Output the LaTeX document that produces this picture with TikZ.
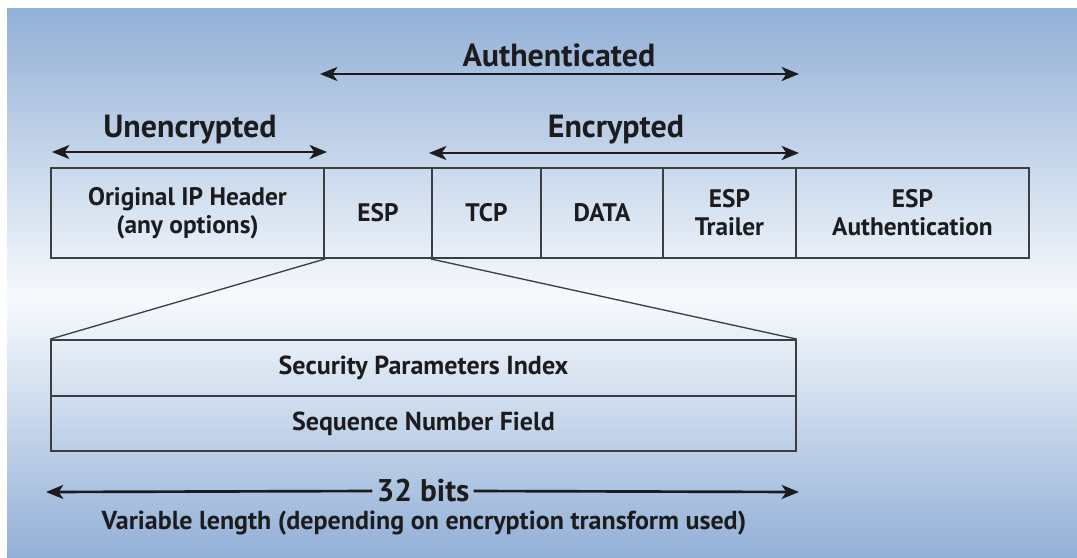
\documentclass[tikz,border=0pt]{standalone}
\usepackage{fontspec}
\setmainfont{PT Sans}
\usetikzlibrary{arrows.meta}
\definecolor{bgblue}{RGB}{146,176,215}
\definecolor{bgwhite}{RGB}{247,250,253}
\definecolor{ink}{RGB}{28,28,30}
\definecolor{rule}{RGB}{60,62,66}
\tikzset{
  headtip/.tip={Stealth[length=13pt,width=10.5pt,inset=3.5pt]},
  field/.style={draw=rule, line width=1.5pt, rectangle, inner sep=0pt, align=center,
    font=\fontsize{19}{21}\selectfont\bfseries, text=ink, minimum height=90*0.75pt},
  row/.style={draw=rule, line width=1.3pt, rectangle, inner sep=0pt,
    font=\fontsize{19.5}{21}\selectfont\bfseries, text=ink, minimum width=745*0.75pt},
  span/.style={draw=ink, line width=2pt, headtip-headtip},
  half/.style={draw=ink, line width=2pt, -headtip},
  caption/.style={font=\fontsize{24}{26}\selectfont\bfseries, text=ink, inner sep=1pt},
  note/.style={font=\fontsize{19.5}{21}\selectfont\bfseries, text=ink, inner sep=2pt},
  zoomline/.style={draw=rule, line width=1pt}
}
\begin{document}
\begin{tikzpicture}[x=0.75pt,y=-0.75pt]
\useasboundingbox (0,0) rectangle (1077,557);
\fill[white] (0,0) rectangle (1077,557);
% backdrop: blue fading to white and back to blue
\shade[top color=bgblue, bottom color=bgwhite] (7,8) rectangle (1077,300);
\shade[top color=bgwhite, bottom color=bgblue] (7,299.5) rectangle (1077,557);

% ESP packet fields
\node[field, minimum width=273*0.75pt] (ip)   at (187.5,213) {Original IP Header\\(any options)};
\node[field, minimum width=108*0.75pt] (esp)  at (378,213)   {ESP};
\node[field, minimum width=109*0.75pt] (tcp)  at (486.5,213) {TCP};
\node[field, minimum width=122*0.75pt] (data) at (602,213)   {DATA};
\node[field, minimum width=133*0.75pt] (trl)  at (729.5,213) {ESP\\Trailer};
\node[field, minimum width=233*0.75pt] (auth) at (912.5,213) {ESP\\Authentication};

% ESP header detail
\node[row, minimum height=56*0.75pt] (spi) at (423.5,368) {Security Parameters Index};
\node[row, minimum height=55*0.75pt] (snf) at (423.5,423.5) {Sequence Number Field};

\draw[zoomline] (ip.south east) -- (spi.north west);
\draw[zoomline] (tcp.south west) -- (spi.north east);

% coverage arrows
\coordinate (ua) at (52,152);  \coordinate (ub) at (327,152);
\coordinate (aa) at (320,74);  \coordinate (ab) at (799,74);
\coordinate (ea) at (429,153); \coordinate (eb) at (799,153);
\draw[span] (ua) -- (ub);
\draw[span] (aa) -- (ab);
\draw[span] (ea) -- (eb);
\node[caption] (ulab) at (190,130) {Unencrypted};
\node[caption] (alab) at (559,55)  {Authenticated};
\node[caption] (elab) at (616,130) {Encrypted};

% width of the header
\coordinate (wl) at (46,492); \coordinate (wr) at (799,492);
\node[caption, font=\fontsize{23.5}{25}\selectfont\bfseries, inner sep=3pt] (bits) at (423,491) {32 bits};
\draw[half] (bits.west) -- (wl);
\draw[half] (bits.east) -- (wr);
\node[note] (var) at (424,523) {Variable length (depending on encryption transform used)};
\end{tikzpicture}
\end{document}
